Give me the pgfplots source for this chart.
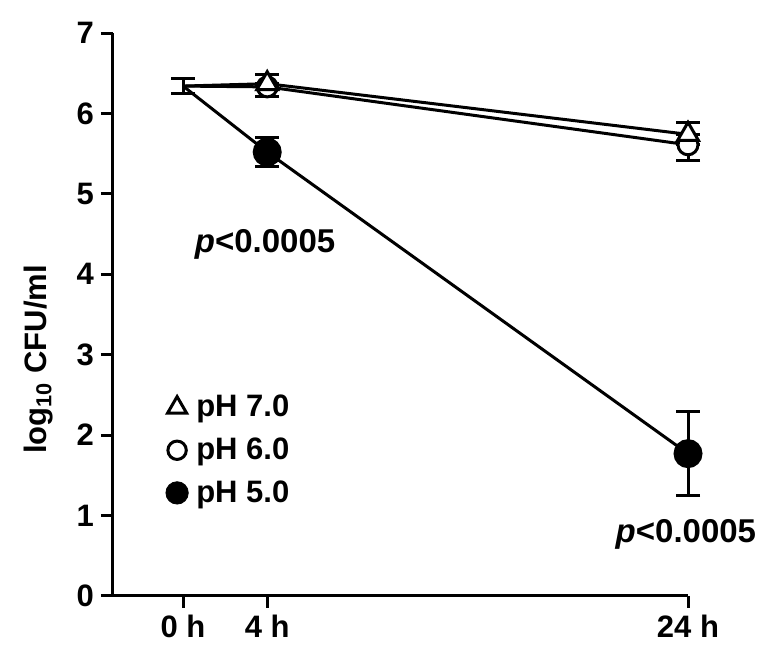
\documentclass[border=0pt]{standalone}
\usepackage{fontspec}
\setmainfont{Liberation Sans}
\usepackage{pgfplots}
\pgfplotsset{compat=1.18}
\begin{document}
\begin{tikzpicture}
\begin{axis}[
    scale only axis,
    width=287.5pt, height=281.5pt,
    xmin=-3.33, xmax=24, ymin=0, ymax=7,
    clip=false,
    axis lines=left,
    axis line style={-, line width=1.5pt},
    xtick={0,4,24}, xticklabels={0 h,4 h,24 h},
    ytick={0,1,2,3,4,5,6,7},
    tick align=outside, major tick length=6pt,
    tick style={line width=1.5pt, black},
    tick label style={font=\bfseries\fontsize{15.5}{18}\selectfont},
    /pgf/number format/assume math mode=true,
    ylabel={log\textsubscript{10} CFU/ml},
    ylabel style={font=\bfseries\fontsize{15.5}{18}\selectfont, at={(axis description cs:-0.13,0.42)}, anchor=center},
    legend style={at={(axis cs:-1.12,2.6)}, anchor=north west, draw=none, fill=none,
        font=\bfseries\fontsize{15.5}{18}\selectfont, row sep=5pt, column sep=2pt},
    legend cell align=left,
    error bars/error bar style={line width=1.5pt},
    error bars/error mark options={rotate=90, mark size=6pt, line width=1.5pt},
]
% legend entries
\addlegendimage{only marks, mark=triangle*, mark size=5.5pt, mark options={line width=1.5pt, fill=white, draw=black}}
\addlegendentry{pH 7.0}
\addlegendimage{only marks, mark=*, mark size=4.6pt, mark options={line width=1.5pt, fill=white, draw=black}}
\addlegendentry{pH 6.0}
\addlegendimage{only marks, mark=*, mark size=5.6pt, mark options={fill=black, draw=black}}
\addlegendentry{pH 5.0}

% pH 5.0
\addplot[black, line width=1.5pt, mark=*, mark indices={2,3}, mark size=6.5pt,
    mark options={fill=black},
    error bars/.cd, y dir=both, y explicit] coordinates {
    (0,6.34) +- (0,0.09)
    (4,5.52) +- (0,0.18)
    (24,1.77) +- (0,0.52)
};
% pH 6.0
\addplot[black, line width=1.5pt, mark=*, mark indices={2,3}, mark size=5pt,
    mark options={fill=white},
    error bars/.cd, y dir=both, y explicit] coordinates {
    (0,6.34) += (0,0.09) -= (0,0.09)
    (4,6.33) += (0,0) -= (0,0.12)
    (24,5.61) += (0,0) -= (0,0.19)
};
% pH 7.0
\addplot[black, line width=1.5pt, mark=triangle*, mark indices={2,3}, mark size=6pt,
    mark options={fill=white},
    error bars/.cd, y dir=both, y explicit] coordinates {
    (0,6.34) += (0,0.09) -= (0,0.09)
    (4,6.37) += (0,0.12) -= (0,0)
    (24,5.74) += (0,0.15) -= (0,0)
};

\node[font=\bfseries\fontsize{16.5}{18}\selectfont] at (axis cs:3.9,4.37) {\textit{p}<0.0005};
\node[font=\bfseries\fontsize{16.5}{18}\selectfont] at (axis cs:23.9,0.76) {\textit{p}<0.0005};
\end{axis}
\path[use as bounding box] (-56.5pt,-30pt) rectangle (330.5pt,298pt);
\end{tikzpicture}
\end{document}
